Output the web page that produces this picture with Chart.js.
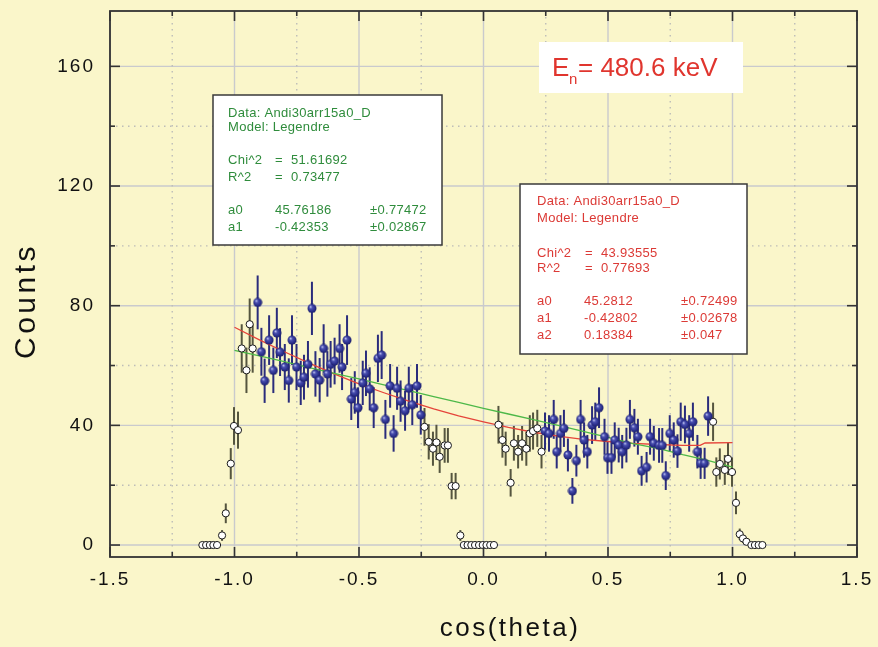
<!DOCTYPE html>
<html><head><meta charset="utf-8">
<script src="https://cdn.jsdelivr.net/npm/chart.js@4"></script>
<style>html,body{margin:0;padding:0;background:#FAF6CA;}canvas{display:block;}</style>
</head><body>
<canvas id="c" width="878" height="647"></canvas>
<script>
// ---- axis ticks ----
const xTicks = [-1.5, -1.0, -0.5, 0.0, 0.5, 1.0, 1.5];
const yTicks = [0, 40, 80, 120, 160];
const xMinor = [-1.25, -0.75, -0.25, 0.25, 0.75, 1.25];
const yMinor = [20, 60, 100, 140];

// ---- fitted (filled blue) points ----
const blueX = [-0.907,-0.892,-0.879,-0.861,-0.844,-0.830,-0.817,-0.798,-0.782,-0.769,-0.751,-0.734,-0.721,-0.705,-0.689,-0.675,-0.658,-0.642,-0.627,-0.614,-0.598,-0.578,-0.568,-0.548,-0.531,-0.517,-0.504,-0.485,-0.472,-0.457,-0.441,-0.424,-0.409,-0.394,-0.375,-0.361,-0.347,-0.333,-0.315,-0.300,-0.286,-0.267,-0.252,
  0.247,0.263,0.282,0.294,0.309,0.323,0.339,0.357,0.373,0.390,0.404,0.417,0.436,0.449,0.464,0.486,0.498,0.514,0.527,0.543,0.557,0.574,0.588,0.606,0.620,0.635,0.655,0.669,0.684,0.705,0.718,0.732,0.748,0.764,0.779,0.792,0.809,0.826,0.841,0.859,0.872,0.888,0.902];
const blueY = [81.1,64.6,54.9,68.5,58.4,70.9,64.5,59.5,55.0,68.5,59.5,54.2,56.1,60.4,79.1,57.2,55.1,65.7,57.2,60.4,61.5,65.7,59.5,68.5,48.8,51.0,45.9,54.2,57.4,52.2,45.9,62.4,63.5,42.0,53.2,37.3,52.4,48.1,44.9,52.4,46.9,53.2,43.5,
  38.1,37.3,42.0,31.2,37.3,39.0,30.1,18.1,28.2,42.0,35.1,31.2,40.1,41.2,45.9,36.2,29.2,29.2,35.1,33.4,31.2,33.4,42.0,39.2,36.2,24.8,26.0,36.2,34.0,33.3,33.3,23.2,37.3,35.1,31.4,41.2,40.3,37.3,41.2,31.2,27.3,27.3,43.1];
const blueErr = [9.0,8.0,7.4,8.3,7.6,8.4,8.0,7.7,7.4,8.3,7.7,7.4,7.5,7.8,8.9,7.6,7.4,8.1,7.6,7.8,7.8,8.1,7.7,8.3,7.0,7.1,6.8,7.4,7.6,7.2,6.8,7.9,8.0,6.5,7.3,6.1,7.2,6.9,6.7,7.2,6.8,7.3,6.6,
  6.2,6.1,6.5,5.6,6.1,6.2,5.5,4.3,5.3,6.5,5.9,5.6,6.3,6.4,6.8,6.0,5.4,5.4,5.9,5.8,5.6,5.8,6.5,6.3,6.0,5.0,5.1,6.0,5.8,5.8,5.8,4.8,6.1,5.9,5.6,6.4,6.3,6.1,6.4,5.6,5.2,5.2,6.6];

// ---- excluded (open) points ----
const openX = [-1.129,-1.114,-1.099,-1.085,-1.070,-1.050,-1.035,-1.015,-1.002,-0.986,-0.971,-0.952,-0.939,-0.927,
  -0.237,-0.220,-0.203,-0.189,-0.176,-0.156,-0.143,-0.128,-0.112,-0.093,
  -0.079,-0.064,-0.049,-0.034,-0.018,-0.003,0.012,0.027,0.042,
  0.060,0.076,0.089,0.109,0.122,0.139,0.155,0.172,0.186,0.199,0.216,0.233,
  0.922,0.935,0.949,0.969,0.982,0.998,1.014,1.029,1.042,1.056,1.076,1.090,1.105,1.120];
const openY = [0,0,0,0,0,3.2,10.6,27.2,39.8,38.4,65.7,58.4,73.8,65.7,
  39.5,34.5,32.2,34.3,29.5,33.3,33.3,19.7,19.7,3.2,
  0,0,0,0,0,0,0,0,0,
  40.2,35.1,32.2,20.8,34.0,31.2,34.0,32.2,37.3,38.1,39.0,31.2,
  41.2,24.4,27.1,25.1,28.8,24.4,14.1,3.6,2.2,1.1,0,0,0,0];
const openErr = [0,0,0,0,0,1.8,3.3,5.2,6.3,6.2,8.1,7.6,8.6,8.1,
  6.3,5.9,5.7,5.9,5.4,5.8,5.8,4.4,4.4,1.8,
  0,0,0,0,0,0,0,0,0,
  6.3,5.9,5.7,4.6,5.8,5.6,5.8,5.7,6.1,6.2,6.2,5.6,
  6.4,4.9,5.2,5.0,5.4,4.9,3.8,1.9,1.5,1.0,0,0,0,0];

// ---- fit curves ----
const redFitX = [-1.0,-0.9,-0.8,-0.7,-0.6,-0.5,-0.4,-0.3,-0.2,-0.1,0.0,0.1,0.2,0.3,0.4,0.5,0.6,0.7,0.8,0.87,0.89,1.0];
const redFitY = [72.8,68.6,64.6,60.8,57.2,53.9,50.9,48.1,45.5,43.2,41.2,39.3,37.7,36.4,35.3,34.6,34.0,33.6,33.3,33.3,34.1,34.2];
const greenFitX = [-1.0,-0.9,-0.8,-0.7,-0.6,-0.5,-0.4,-0.3,-0.2,-0.1,0.0,0.1,0.2,0.3,0.4,0.5,0.6,0.7,0.8,0.9,1.0];
const greenFitY = [65.1,63.2,61.3,59.3,57.4,55.5,53.5,51.6,49.6,47.7,45.7,43.8,41.9,40.0,38.0,36.0,33.9,32.3,30.2,28.3,26.0];

// ---- annotation texts ----
const greenHeader = ['Data: Andi30arr15a0_D', 'Model: Legendre'];
const greenStats = [['Chi^2', '51.61692'], ['R^2', '0.73477']];
const greenParams = [['a0', '45.76186', '±0.77472'], ['a1', '-0.42353', '±0.02867']];
const redHeader = ['Data: Andi30arr15a0_D', 'Model: Legendre'];
const redStats = [['Chi^2', '43.93555'], ['R^2', '0.77693']];
const redParams = [['a0', '45.2812', '±0.72499'], ['a1', '-0.42802', '±0.02678'], ['a2', '0.18384', '±0.047']];
const energyMain = 'E', energySub = 'n', energyRest = '= 480.6 keV';
const xTitle = 'cos(theta)', yTitle = 'Counts';

const BG = '#FAF6CA';
const FONT = "'Liberation Sans', Arial, Helvetica, sans-serif";
const GREEN_TXT = '#2F8C3C', RED_TXT = '#DC3A36';

function sphere() {
  const c = document.createElement('canvas'); c.width = 10; c.height = 10;
  const g = c.getContext('2d');
  const gr = g.createRadialGradient(3.4, 3.2, 0.2, 5, 5, 5);
  gr.addColorStop(0, '#c4c8f4'); gr.addColorStop(0.3, '#4a50b0'); gr.addColorStop(0.75, '#262a86'); gr.addColorStop(1, '#181a58');
  g.fillStyle = gr; g.beginPath(); g.arc(5, 5, 4.5, 0, Math.PI * 2); g.fill();
  return c;
}

const deco = {
  id: 'deco',
  beforeDraw(chart) {
    const ctx = chart.ctx;
    ctx.save(); ctx.fillStyle = BG; ctx.fillRect(0, 0, chart.width, chart.height); ctx.restore();
    try { ctx.letterSpacing = '2px'; } catch (e) {}
  },
  beforeDatasetsDraw(chart) {
    const { ctx, chartArea: a, scales: { x, y } } = chart;
    ctx.save();
    ctx.letterSpacing = '0px';
    ctx.strokeStyle = '#c9cacd'; ctx.lineWidth = 1.4;
    xTicks.forEach(v => { const p = x.getPixelForValue(v); ctx.beginPath(); ctx.moveTo(p, a.top); ctx.lineTo(p, a.bottom); ctx.stroke(); });
    yTicks.forEach(v => { const p = y.getPixelForValue(v); ctx.beginPath(); ctx.moveTo(a.left, p); ctx.lineTo(a.right, p); ctx.stroke(); });
    ctx.strokeStyle = '#bdbdb8'; ctx.lineWidth = 1.4; ctx.setLineDash([1.5, 4.5]);
    xMinor.forEach(v => { const p = x.getPixelForValue(v); ctx.beginPath(); ctx.moveTo(p, a.top); ctx.lineTo(p, a.bottom); ctx.stroke(); });
    yMinor.forEach(v => { const p = y.getPixelForValue(v); ctx.beginPath(); ctx.moveTo(a.left, p); ctx.lineTo(a.right, p); ctx.stroke(); });
    ctx.setLineDash([]);
    const bars = (xs, ys, es, col) => {
      ctx.strokeStyle = col; ctx.lineWidth = 2;
      xs.forEach((xv, i) => {
        if (!es[i]) return;
        const px = x.getPixelForValue(xv);
        ctx.beginPath(); ctx.moveTo(px, y.getPixelForValue(ys[i] - es[i])); ctx.lineTo(px, y.getPixelForValue(ys[i] + es[i])); ctx.stroke();
      });
    };
    bars(openX, openY, openErr, '#55553f');
    bars(blueX, blueY, blueErr, '#2a2c7c');
    ctx.restore();
  },
  afterDatasetsDraw(chart) {
    const { ctx, chartArea: a, scales: { x, y } } = chart;
    ctx.save();
    ctx.strokeStyle = '#333'; ctx.lineWidth = 1.6;
    const seg = (x1, y1, x2, y2) => { ctx.beginPath(); ctx.moveTo(x1, y1); ctx.lineTo(x2, y2); ctx.stroke(); };
    xTicks.forEach(v => { const p = x.getPixelForValue(v); seg(p, a.bottom, p, a.bottom - 10); seg(p, a.top, p, a.top + 10); });
    xMinor.forEach(v => { const p = x.getPixelForValue(v); seg(p, a.bottom, p, a.bottom - 5); seg(p, a.top, p, a.top + 5); });
    yTicks.forEach(v => { const p = y.getPixelForValue(v); seg(a.left, p, a.left + 10, p); seg(a.right, p, a.right - 10, p); });
    yMinor.forEach(v => { const p = y.getPixelForValue(v); seg(a.left, p, a.left + 5, p); seg(a.right, p, a.right - 5, p); });
    ctx.lineWidth = 1.8;
    ctx.strokeRect(a.left, a.top, a.right - a.left, a.bottom - a.top);
    ctx.restore();
  },
  afterDraw(chart) {
    const ctx = chart.ctx;
    ctx.save();
    // axis titles
    ctx.fillStyle = '#111'; ctx.textAlign = 'center'; ctx.textBaseline = 'middle';
    ctx.letterSpacing = '2.5px';
    ctx.font = '26px ' + FONT; ctx.fillText(xTitle, 510, 629);
    ctx.save(); ctx.translate(27, 301); ctx.rotate(-Math.PI / 2);
    ctx.letterSpacing = '3.5px';
    ctx.font = '30px ' + FONT; ctx.fillText(yTitle, 0, 0);
    ctx.restore();

    ctx.letterSpacing = '0.3px';
    const box = (x0, y0, x1, y1) => {
      ctx.fillStyle = '#fff'; ctx.fillRect(x0, y0, x1 - x0, y1 - y0);
      ctx.strokeStyle = '#3a3a3a'; ctx.lineWidth = 1.5; ctx.strokeRect(x0, y0, x1 - x0, y1 - y0);
    };
    ctx.font = '13px ' + FONT; ctx.textBaseline = 'middle'; ctx.textAlign = 'left';
    box(213, 95, 442, 245);
    ctx.fillStyle = GREEN_TXT;
    greenHeader.forEach((t, i) => ctx.fillText(t, 228, [113, 127][i]));
    greenStats.forEach((r, i) => { const yy = [160, 177][i]; ctx.fillText(r[0], 228, yy); ctx.fillText('=', 275, yy); ctx.fillText(r[1], 291, yy); });
    greenParams.forEach((r, i) => { const yy = [210, 227][i]; ctx.fillText(r[0], 228, yy); ctx.fillText(r[1], 275, yy); ctx.fillText(r[2], 370, yy); });
    box(520, 184, 747, 354);
    ctx.fillStyle = RED_TXT;
    redHeader.forEach((t, i) => ctx.fillText(t, 537, [201.5, 218.5][i]));
    redStats.forEach((r, i) => { const yy = [253, 268.5][i]; ctx.fillText(r[0], 537, yy); ctx.fillText('=', 585, yy); ctx.fillText(r[1], 601, yy); });
    redParams.forEach((r, i) => { const yy = [301.5, 318.5, 335][i]; ctx.fillText(r[0], 537, yy); ctx.fillText(r[1], 584, yy); ctx.fillText(r[2], 681, yy); });
    ctx.fillStyle = '#fff'; ctx.fillRect(539, 42, 204, 51);
    ctx.letterSpacing = '0px';
    ctx.fillStyle = '#E0352E'; ctx.textBaseline = 'alphabetic';
    ctx.font = '26px ' + FONT; ctx.fillText(energyMain, 552, 76);
    ctx.font = '15px ' + FONT; ctx.fillText(energySub, 569, 84);
    ctx.font = '26px ' + FONT; ctx.fillText(energyRest, 578, 76);
    ctx.restore();
  }
};

const ctx = document.getElementById('c').getContext('2d');
new Chart(ctx, {
  type: 'scatter',
  data: {
    datasets: [
      { label: 'fit2', type: 'line', data: redFitX.map((v, i) => ({ x: v, y: redFitY[i] })), borderColor: '#E5443A', borderWidth: 1.3, pointRadius: 0, fill: false, tension: 0, order: 5 },
      { label: 'fit1', type: 'line', data: greenFitX.map((v, i) => ({ x: v, y: greenFitY[i] })), borderColor: '#4DB848', borderWidth: 1.3, pointRadius: 0, fill: false, tension: 0, order: 4 },
      { label: 'excluded', data: openX.map((v, i) => ({ x: v, y: openY[i] })), pointStyle: 'circle', pointRadius: 3.6, backgroundColor: '#ffffff', borderColor: '#1a1a1a', borderWidth: 1, order: 1 },
      { label: 'fitted', data: blueX.map((v, i) => ({ x: v, y: blueY[i] })), pointStyle: sphere(), pointRadius: 5, order: 0 }
    ]
  },
  options: {
    responsive: false, animation: false, devicePixelRatio: 1,
    layout: { padding: { top: 11, right: 21, left: 0, bottom: 0 } },
    plugins: { legend: { display: false }, tooltip: { enabled: false } },
    scales: {
      x: {
        type: 'linear', min: -1.5, max: 1.5,
        afterBuildTicks: s => { s.ticks = xTicks.map(v => ({ value: v })); },
        afterFit: s => { s.height = 90; s.paddingLeft = 0; s.paddingRight = 0; },
        grid: { display: false, drawTicks: false }, border: { display: false },
        ticks: { padding: 11, maxRotation: 0, autoSkip: false, color: '#111', font: { family: FONT, size: 19 }, callback: v => v.toFixed(1) },
        title: { display: false }
      },
      y: {
        type: 'linear', min: -4, max: 178.5,
        afterBuildTicks: s => { s.ticks = yTicks.map(v => ({ value: v })); },
        afterFit: s => { s.width = 110; s.paddingTop = 0; s.paddingBottom = 0; },
        grid: { display: false, drawTicks: false }, border: { display: false },
        ticks: { padding: 15, color: '#111', font: { family: FONT, size: 19 }, callback: v => String(v) },
        title: { display: false }
      }
    }
  },
  plugins: [deco]
});
</script>
</body></html>
